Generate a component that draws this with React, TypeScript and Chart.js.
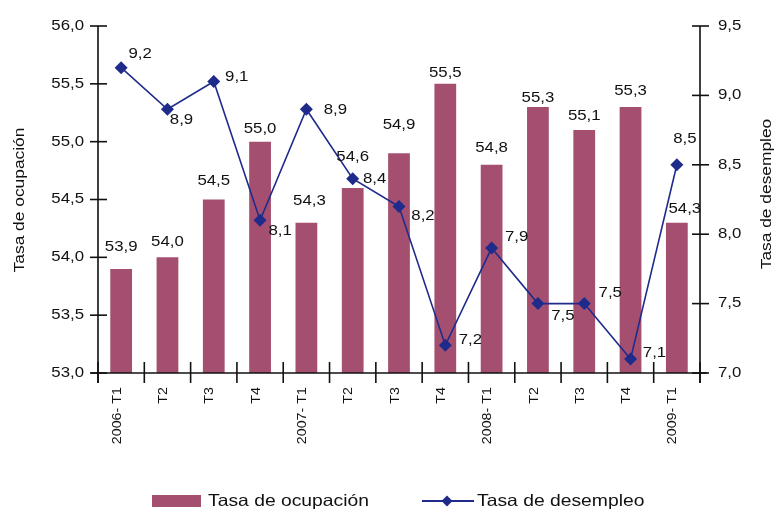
import { useEffect, useRef } from 'react';
import { Chart, registerables } from 'chart.js';

Chart.register(...registerables);

// Quarters on the category axis
const quarters = ['2006- T1', 'T2', 'T3', 'T4', '2007- T1', 'T2', 'T3', 'T4', '2008- T1', 'T2', 'T3', 'T4', '2009- T1'];
// Tasa de ocupación (left axis, bars)
const ocupacion = [53.9, 54.0, 54.5, 55.0, 54.3, 54.6, 54.9, 55.5, 54.8, 55.3, 55.1, 55.3, 54.3];
// Tasa de desempleo (right axis, line)
const desempleo = [9.2, 8.9, 9.1, 8.1, 8.9, 8.4, 8.2, 7.2, 7.9, 7.5, 7.5, 7.1, 8.5];
// Axis ranges and tick step
const ocupacionRange = [53, 56];
const desempleoRange = [7, 9.5];
const tickStep = 0.5;

const seriesNames = ['Tasa de ocupación', 'Tasa de desempleo'];

// Label placement (pixels): how far each bar label sits above its bar, and its sideways shift
const barLabelLift = [22, 15, 18, 13, 21, 31, 28, 11, 16.5, 9, 13.5, 16, 13];
const barLabelShift = [0, 0, 0, 0, 3, 0, 0, 0, 0, 0, 0, 0, 8];
// Offset of each line label from its point
const lineLabelOffset: [number, number][] = [
  [19, -13], [14, 11], [23, -4], [20, 11], [29, 1], [22, 0], [24, 10],
  [25, -5], [25, -11], [25, 13], [26, -10], [24, -6], [8, -26],
];

const BAR_COLOR = '#A44F70';
const LINE_COLOR = '#1E2B8B';
const INK = '#111111';
const FONT = '"Liberation Sans", Arial, Helvetica, sans-serif';

const fmt = (v: number) => v.toFixed(1).replace('.', ',');

function drawText(
  ctx: CanvasRenderingContext2D,
  s: string,
  x: number,
  y: number,
  size: number,
  align: CanvasTextAlign,
  rotation = 0,
  stretch = 1.2,
) {
  ctx.save();
  ctx.translate(x, y);
  ctx.rotate(rotation);
  ctx.scale(stretch, 1);
  ctx.font = `${size}px ${FONT}`;
  ctx.fillStyle = INK;
  ctx.textAlign = align;
  ctx.textBaseline = 'middle';
  ctx.fillText(s, 0, 0);
  ctx.restore();
}

function seg(ctx: CanvasRenderingContext2D, x1: number, y1: number, x2: number, y2: number) {
  ctx.beginPath();
  ctx.moveTo(x1, y1);
  ctx.lineTo(x2, y2);
  ctx.stroke();
}

function diamond(ctx: CanvasRenderingContext2D, x: number, y: number, r: number) {
  ctx.beginPath();
  ctx.moveTo(x - r, y);
  ctx.lineTo(x, y - r);
  ctx.lineTo(x + r, y);
  ctx.lineTo(x, y + r);
  ctx.closePath();
  ctx.fill();
}

const decorPlugin = {
  id: 'decor',
  afterDatasetsDraw(chart: any) {
    const ctx: CanvasRenderingContext2D = chart.ctx;
    const { left, right, top, bottom } = chart.chartArea;
    const xs = chart.scales.x;
    const yl = chart.scales.y;
    const yr = chart.scales.y1;

    ctx.save();
    ctx.strokeStyle = INK;
    ctx.lineWidth = 1.6;

    // axis lines
    seg(ctx, left, top, left, bottom + 10);
    seg(ctx, right, top, right, bottom + 10);
    seg(ctx, left - 7, bottom, right + 7, bottom);

    // left axis ticks and labels
    yl.ticks.forEach((t: any) => {
      const py = yl.getPixelForValue(t.value);
      seg(ctx, left - 8, py, left + 9, py);
      drawText(ctx, fmt(t.value), left - 14, py, 14, 'right');
    });
    // right axis ticks and labels
    yr.ticks.forEach((t: any) => {
      const py = yr.getPixelForValue(t.value);
      seg(ctx, right - 8, py, right + 9, py);
      drawText(ctx, fmt(t.value), right + 18, py, 14, 'left');
    });

    // category boundaries and rotated quarter labels
    const step = xs.getPixelForValue(1) - xs.getPixelForValue(0);
    for (let i = 0; i <= quarters.length; i++) {
      const px = xs.getPixelForValue(i) - step / 2;
      seg(ctx, px, bottom - 11, px, bottom + 10);
    }
    quarters.forEach((q, i) => {
      const px = xs.getPixelForValue(i) - 4;
      drawText(ctx, q, px, bottom + 14, 13, 'right', -Math.PI / 2, 1.1);
    });

    // axis titles
    drawText(ctx, seriesNames[0], 20, 200, 14, 'center', -Math.PI / 2, 1.24);
    drawText(ctx, seriesNames[1], 767, 194, 14, 'center', -Math.PI / 2, 1.24);

    // value labels on bars
    const barMeta = chart.getDatasetMeta(0);
    barMeta.data.forEach((el: any, i: number) => {
      drawText(ctx, fmt(ocupacion[i]), el.x + barLabelShift[i], el.y - barLabelLift[i], 14, 'center');
    });
    // value labels on the line
    const lineMeta = chart.getDatasetMeta(1);
    lineMeta.data.forEach((el: any, i: number) => {
      const [dx, dy] = lineLabelOffset[i];
      drawText(ctx, fmt(desempleo[i]), el.x + dx, el.y + dy, 14, 'center');
    });

    // legend
    const ly = 501;
    ctx.fillStyle = BAR_COLOR;
    ctx.fillRect(152, ly - 6, 49, 12);
    drawText(ctx, seriesNames[0], 208, ly, 16.5, 'left', 0, 1.17);
    ctx.strokeStyle = LINE_COLOR;
    ctx.lineWidth = 1.8;
    seg(ctx, 422, ly, 474, ly);
    ctx.fillStyle = LINE_COLOR;
    diamond(ctx, 447, ly, 5.5);
    drawText(ctx, seriesNames[1], 477, ly, 16.5, 'left', 0, 1.17);

    ctx.restore();
  },
};

export default function App() {
  const canvasRef = useRef<HTMLCanvasElement | null>(null);

  useEffect(() => {
    const canvas = canvasRef.current;
    if (!canvas) return;
    const chart = new Chart(canvas, {
      type: 'bar',
      data: {
        labels: quarters,
        datasets: [
          {
            type: 'bar',
            label: seriesNames[0],
            data: ocupacion,
            backgroundColor: BAR_COLOR,
            borderWidth: 0,
            barPercentage: 0.47,
            categoryPercentage: 1,
            yAxisID: 'y',
            order: 1,
          },
          {
            type: 'line',
            label: seriesNames[1],
            data: desempleo,
            borderColor: LINE_COLOR,
            backgroundColor: LINE_COLOR,
            borderWidth: 1.6,
            pointStyle: 'rectRot',
            pointRadius: 6.5,
            pointBorderWidth: 0,
            pointBackgroundColor: LINE_COLOR,
            tension: 0,
            fill: false,
            clip: false,
            yAxisID: 'y1',
            order: 0,
          },
        ],
      },
      options: {
        responsive: false,
        animation: false,
        devicePixelRatio: 1,
        layout: { padding: { top: 26, left: 0, right: 0, bottom: 0 } },
        plugins: {
          legend: { display: false },
          tooltip: { enabled: false },
        },
        scales: {
          x: {
            offset: true,
            grid: { display: false },
            border: { display: false },
            ticks: { display: false },
            afterFit: (s: any) => { s.height = 143; },
          },
          y: {
            position: 'left',
            min: ocupacionRange[0],
            max: ocupacionRange[1],
            ticks: { display: false, stepSize: tickStep },
            grid: { display: false },
            border: { display: false },
            afterFit: (s: any) => { s.width = 98; },
          },
          y1: {
            position: 'right',
            min: desempleoRange[0],
            max: desempleoRange[1],
            ticks: { display: false, stepSize: tickStep },
            grid: { display: false },
            border: { display: false },
            afterFit: (s: any) => { s.width = 74; },
          },
        },
      },
      plugins: [decorPlugin],
    });
    return () => chart.destroy();
  }, []);

  return (
    <div style={{ position: 'fixed', left: 0, top: 0, width: 774, height: 516, background: '#ffffff' }}>
      <canvas ref={canvasRef} width={774} height={516} style={{ display: 'block', width: 774, height: 516 }} />
    </div>
  );
}
